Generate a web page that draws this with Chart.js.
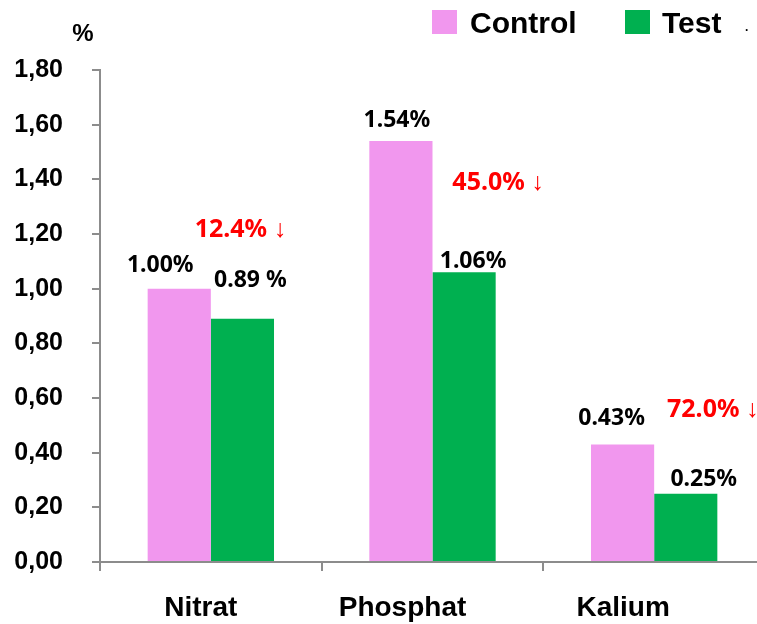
<!DOCTYPE html>
<html>
<head>
<meta charset="utf-8">
<script src="https://cdn.jsdelivr.net/npm/chart.js@4.4.0/dist/chart.umd.min.js"></script>
<style>
  html, body { margin: 0; padding: 0; background: #fff; overflow: hidden; }
  #wrap { width: 765px; height: 624px; }
</style>
</head>
<body>
<div id="wrap"><canvas id="chart" width="765" height="624"></canvas></div>
<script>
const categories = ['Nitrat', 'Phosphat', 'Kalium'];
const controlValues = [1.00, 1.54, 0.43];
const testValues = [0.89, 1.06, 0.25];
const controlLabels = ['1.00%', '1.54%', '0.43%'];
const testLabels = ['0.89 %', '1.06%', '0.25%'];
const reductions = [12.4, 45.0, 72.0];
const yTicks = [0, 0.2, 0.4, 0.6, 0.8, 1.0, 1.2, 1.4, 1.6, 1.8];

const PINK = '#F197EE';
const GREEN = '#00B050';
const AXIS = '#8C8C8C';

// manual label nudges, like the hand-placed labels in the original
const labelOffsets = [
  [[-19, -23], [-4, -21], [-11, -26]],
  [[8, -38], [9, -11], [18, -14]]
];
const reductionOffsets = [[-2, -89], [34, -89], [27, -84]];
const categoryOffsets = [-10, -30, -31];

const labelPlugin = {
  id: 'barLabels',
  afterDatasetsDraw(chart) {
    const ctx = chart.ctx;
    ctx.save();
    ctx.textAlign = 'center';
    ctx.textBaseline = 'middle';
    ctx.fillStyle = '#000';
    ctx.font = 'bold 23px "Noto Sans"';
    const texts = [controlLabels, testLabels];
    chart.data.datasets.forEach((ds, di) => {
      chart.getDatasetMeta(di).data.forEach((bar, i) => {
        const off = labelOffsets[di][i];
        ctx.fillText(texts[di][i], bar.x + off[0], bar.y + off[1]);
      });
    });
    ctx.fillStyle = '#FF0000';
    ctx.font = 'bold 25px "Noto Sans"';
    chart.getDatasetMeta(1).data.forEach((bar, i) => {
      const off = reductionOffsets[i];
      ctx.fillText(reductions[i].toFixed(1) + '% \u2193', bar.x + off[0], bar.y + off[1]);
    });

    // category labels, nudged like the original
    const xScale = chart.scales.x;
    ctx.fillStyle = '#000';
    ctx.font = 'bold 28px "Liberation Sans"';
    categories.forEach((c, i) => {
      ctx.fillText(c, xScale.getPixelForValue(i) + categoryOffsets[i], 608);
    });

    // unit label
    ctx.font = 'bold 24px "Liberation Sans"';
    ctx.fillText('%', 83, 34);

    // legend
    ctx.textAlign = 'left';
    ctx.textBaseline = 'alphabetic';
    ctx.font = 'bold 30px "Liberation Sans"';
    const items = [[432, 470], [625, 662]];
    chart.data.datasets.forEach((ds, di) => {
      ctx.fillStyle = ds.backgroundColor;
      ctx.fillRect(items[di][0], 10, 25, 24);
      ctx.fillStyle = '#000';
      ctx.fillText(ds.label, items[di][1], 33);
    });
    ctx.font = 'bold 12px "Liberation Sans"';
    ctx.fillText('.', 745, 31);
    ctx.restore();
  }
};

new Chart(document.getElementById('chart'), {
  type: 'bar',
  data: {
    labels: categories,
    datasets: [
      { label: 'Control', data: controlValues, backgroundColor: PINK },
      { label: 'Test', data: testValues, backgroundColor: GREEN }
    ]
  },
  options: {
    responsive: false,
    animation: false,
    layout: { padding: { top: 70, left: 0, right: 0, bottom: 0 } },
    datasets: { bar: { categoryPercentage: 0.57, barPercentage: 1.0 } },
    plugins: { legend: { display: false }, tooltip: { enabled: false } },
    scales: {
      x: {
        afterFit(scale) { scale.height = 62; },
        grid: { drawOnChartArea: false, tickLength: 9, color: AXIS, lineWidth: 2 },
        border: { color: AXIS, width: 2 },
        ticks: { display: false }
      },
      y: {
        min: 0,
        max: 1.8,
        afterFit(scale) { scale.width = 100; },
        afterBuildTicks(scale) { scale.ticks = yTicks.map(v => ({ value: v })); },
        grid: { drawOnChartArea: false, tickLength: 8, color: AXIS, lineWidth: 2 },
        border: { color: AXIS, width: 2 },
        ticks: {
          color: '#000',
          padding: 29,
          font: { family: 'Liberation Sans', size: 25, weight: 'bold' },
          callback: v => v.toFixed(2).replace('.', ',')
        }
      }
    }
  },
  plugins: [labelPlugin]
});
</script>
</body>
</html>
